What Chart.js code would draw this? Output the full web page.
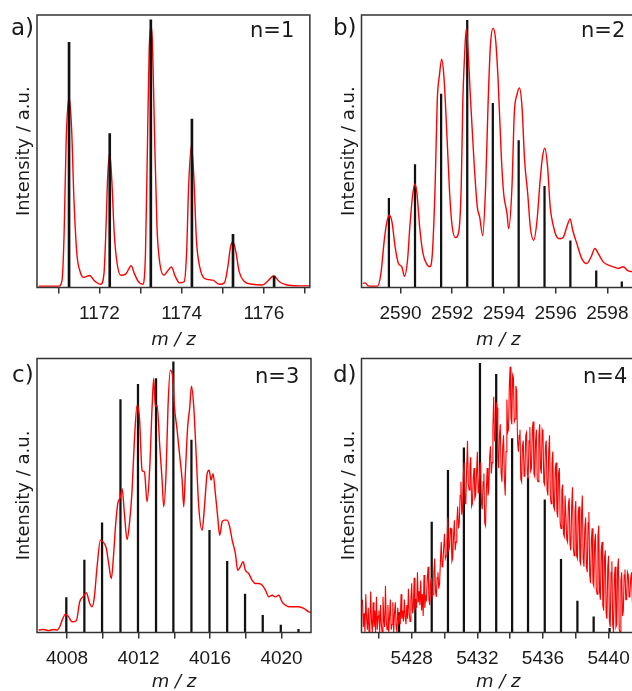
<!DOCTYPE html>
<html><head><meta charset="utf-8">
<script src="https://cdn.jsdelivr.net/npm/chart.js@4.4.1/dist/chart.umd.min.js"></script>
<style>
html,body{margin:0;padding:0;background:#fff;overflow:hidden;width:632px;height:691px;}
#wrap{position:relative;width:632px;height:691px;overflow:hidden;background:#fff;}
canvas{position:absolute;}
.lbl{position:absolute;font-family:'DejaVu Sans',sans-serif;color:#1a1a1a;line-height:1;white-space:nowrap;}
.pl{font-size:23px;}
.nl{font-size:21px;}
</style></head><body>
<div id="wrap">
<canvas id="ca" width="316" height="351" style="left:0;top:0"></canvas>
<canvas id="cb" width="330" height="351" style="left:316px;top:0"></canvas>
<canvas id="cc" width="316" height="351" style="left:0;top:340px"></canvas>
<canvas id="cd" width="330" height="351" style="left:316px;top:340px"></canvas>
<div class="lbl pl" style="left:11px;top:16px">a)</div>
<div class="lbl pl" style="left:333px;top:16px">b)</div>
<div class="lbl pl" style="left:12px;top:363px">c)</div>
<div class="lbl pl" style="left:333px;top:363px">d)</div>
<div class="lbl nl" style="left:250px;top:20px">n=1</div>
<div class="lbl nl" style="left:581px;top:20px">n=2</div>
<div class="lbl nl" style="left:255px;top:366px">n=3</div>
<div class="lbl nl" style="left:583px;top:366px">n=4</div>
</div>
<script>
// ---------- DATA ----------
// Panel a (n=1)
const mzA = [1170.52,1171.02,1171.09,1171.14,1171.19,1171.26,1171.32,1171.38,1171.45,1171.53,1171.62,1171.76,1171.88,1172.03,1172.11,1172.16,1172.20,1172.25,1172.30,1172.36,1172.43,1172.52,1172.64,1172.77,1172.85,1172.95,1173.05,1173.12,1173.17,1173.21,1173.25,1173.29,1173.34,1173.40,1173.47,1173.57,1173.66,1173.75,1173.85,1173.95,1174.06,1174.12,1174.17,1174.24,1174.30,1174.36,1174.44,1174.56,1174.76,1174.92,1175.04,1175.13,1175.19,1175.25,1175.32,1175.40,1175.52,1175.72,1175.96,1176.08,1176.24,1176.38,1176.54,1176.85,1177.12];
const intA = [0.5,0.5,2.7,19.8,54,69.8,59,32,12.5,5.8,3.7,4.4,2.4,1.2,5.1,22.3,40.6,49.4,39.4,19.8,8.8,4.5,4.9,8.0,5.1,2.1,1.2,12.5,54,87,95.5,89.6,56.5,22.3,8.8,4.5,6.1,7.5,3.9,1.7,2.1,12.5,37,52.3,39.4,17.4,7.6,3.3,2.7,1.2,1.7,8.2,14.9,16.8,13.1,5.8,2.3,1.2,0.9,2.1,4.2,2.1,1.0,0.6,0.6];
const stickMzA = [1171.26,1172.25,1173.25,1174.25,1175.25,1176.25];
const stickIntA = [90.0,56.5,98.2,61.8,19.5,4.2];
const tickA = [1171,1172,1173,1174,1175,1176,1177];
const labelA = [1172,1174,1176];

// Panel b (n=2)
const mzB = [2588.54,2588.64,2588.73,2588.92,2589.11,2589.24,2589.37,2589.46,2589.56,2589.67,2589.79,2589.92,2590.05,2590.15,2590.27,2590.36,2590.46,2590.55,2590.63,2590.74,2590.87,2591.04,2591.13,2591.23,2591.34,2591.42,2591.51,2591.59,2591.68,2591.81,2591.90,2592.00,2592.13,2592.26,2592.35,2592.41,2592.48,2592.54,2592.62,2592.71,2592.84,2592.97,2593.06,2593.18,2593.29,2593.39,2593.48,2593.58,2593.67,2593.77,2593.90,2593.99,2594.12,2594.18,2594.31,2594.40,2594.51,2594.60,2594.70,2594.80,2594.92,2595.02,2595.15,2595.28,2595.40,2595.49,2595.58,2595.69,2595.79,2595.92,2596.05,2596.17,2596.30,2596.43,2596.56,2596.66,2596.82,2597.01,2597.20,2597.37,2597.52,2597.65,2597.84,2598.04,2598.23,2598.42,2598.61,2598.81,2599.06];
const intB = [1.5,1.7,0.7,0.5,0.5,5.1,17.3,23.4,26.5,24.0,14.9,8.8,7.6,4.1,10.0,22.2,33.2,38.0,35.0,22.2,12.4,8.2,7.6,12.4,38.0,68.5,78.3,83.8,77.1,52.7,34.4,22.2,18.3,21.0,38.0,68.5,85.6,94.8,85.6,68.5,46.6,29.5,25.9,19.1,36.8,68.5,89.3,95.1,91.7,77.1,47.8,34.4,27.1,21.6,36.8,63.7,71.0,73.2,66.1,46.6,34.4,22.2,17.3,24.6,39.3,47.8,51.1,44.1,29.5,22.2,18.5,17.9,18.5,22.2,25.2,21.0,16.1,10.6,8.8,11.2,14.3,12.4,9.4,8.2,7.6,7.0,7.6,6.1,5.7];
const stickMzB = [2589.55,2590.56,2591.57,2592.58,2593.57,2594.57,2595.57,2596.57,2597.57,2598.56];
const stickIntB = [32.7,45.1,71.0,98.0,67.6,53.9,37.1,17.1,6.1,2.1];
const tickB = [2590,2592,2594,2596,2598];
const labelB = [2590,2592,2594,2596,2598];

// Panel c (n=3)
const mzC = [4006.41,4006.69,4006.97,4007.25,4007.44,4007.59,4007.74,4007.91,4008.09,4008.28,4008.52,4008.71,4008.93,4009.08,4009.27,4009.40,4009.53,4009.68,4009.87,4010.01,4010.20,4010.33,4010.48,4010.61,4010.71,4010.84,4010.99,4011.08,4011.21,4011.36,4011.51,4011.64,4011.77,4011.92,4012.05,4012.20,4012.33,4012.48,4012.63,4012.76,4012.85,4012.94,4013.04,4013.19,4013.32,4013.41,4013.54,4013.65,4013.78,4013.91,4014.01,4014.16,4014.31,4014.44,4014.53,4014.62,4014.75,4014.87,4014.96,4015.09,4015.24,4015.37,4015.56,4015.69,4015.84,4015.95,4016.06,4016.17,4016.30,4016.43,4016.54,4016.68,4016.81,4016.96,4017.10,4017.24,4017.42,4017.55,4017.70,4017.85,4017.98,4018.17,4018.35,4018.54,4018.73,4018.91,4019.10,4019.29,4019.47,4019.66,4019.85,4020.03,4020.22,4020.41,4020.69,4020.97,4021.25,4021.53,4021.71];
const intC = [0.9,1.1,0.7,1.1,0.9,2.1,4.7,6.7,5.7,3.9,4.3,11.2,13.3,14.5,10.6,9.4,13.0,24.0,33.7,33.1,30.7,25.2,19.7,28.8,38.6,47.1,49.5,52.6,43.4,33.9,41.0,51.9,70.2,83.0,78.7,59.2,58.6,47.7,60.5,82.4,92.7,82.4,83.0,67.8,55.6,45.9,58.0,82.4,95.7,93.3,82.4,73.8,64.1,55.6,45.9,58.0,75.1,82.4,89.9,82.4,62.9,45.9,37.3,45.9,58.0,59.2,55.6,58.0,50.7,42.2,35.5,40.4,41.0,41.0,38.6,33.7,28.8,22.7,24.0,25.8,22.7,21.5,19.1,17.9,17.9,17.3,15.5,13.0,13.6,13.0,13.6,11.2,10.0,9.4,9.4,9.4,8.8,7.5,7.2];
const stickMzC = [4007.96,4008.97,4009.96,4010.99,4011.97,4012.98,4013.95,4014.96,4015.97,4016.96,4017.96,4018.95,4019.96,4020.95];
const stickIntC = [12.7,26.4,40.0,85.0,90.6,92.7,98.8,70.2,37.3,26.0,14.0,6.3,2.7,1.2];
const tickC = [4008,4010,4012,4014,4016,4018,4020];
const labelC = [4008,4012,4016,4020];

// Panel d (n=4)
const mzD = [
5425.00,5425.05,5425.10,5425.15,5425.20,5425.25,5425.30,5425.35,5425.40,5425.45,
5425.50,5425.55,5425.60,5425.65,5425.70,5425.75,5425.80,5425.85,5425.90,5425.95,
5426.00,5426.05,5426.10,5426.15,5426.20,5426.25,5426.30,5426.35,5426.40,5426.45,
5426.50,5426.55,5426.60,5426.65,5426.70,5426.75,5426.80,5426.85,5426.90,5426.95,
5427.00,5427.05,5427.10,5427.15,5427.20,5427.25,5427.30,5427.35,5427.40,5427.45,
5427.50,5427.55,5427.60,5427.65,5427.70,5427.75,5427.80,5427.85,5427.90,5427.95,
5428.00,5428.05,5428.10,5428.15,5428.20,5428.25,5428.30,5428.35,5428.40,5428.45,
5428.50,5428.55,5428.60,5428.65,5428.70,5428.75,5428.80,5428.85,5428.90,5428.95,
5429.00,5429.05,5429.10,5429.15,5429.20,5429.25,5429.30,5429.35,5429.40,5429.45,
5429.50,5429.55,5429.60,5429.65,5429.70,5429.75,5429.80,5429.85,5429.90,5429.95,
5430.00,5430.05,5430.10,5430.15,5430.20,5430.25,5430.30,5430.35,5430.40,5430.45,
5430.50,5430.55,5430.60,5430.65,5430.70,5430.75,5430.80,5430.85,5430.90,5430.95,
5431.00,5431.05,5431.10,5431.15,5431.20,5431.25,5431.30,5431.35,5431.40,5431.45,
5431.50,5431.55,5431.60,5431.65,5431.70,5431.75,5431.80,5431.85,5431.90,5431.95,
5432.00,5432.05,5432.10,5432.15,5432.20,5432.25,5432.30,5432.35,5432.40,5432.45,
5432.50,5432.55,5432.60,5432.65,5432.70,5432.75,5432.80,5432.85,5432.90,5432.95,
5433.00,5433.05,5433.10,5433.15,5433.20,5433.25,5433.30,5433.35,5433.40,5433.45,
5433.50,5433.55,5433.60,5433.65,5433.70,5433.75,5433.80,5433.85,5433.90,5433.95,
5434.00,5434.05,5434.10,5434.15,5434.20,5434.25,5434.30,5434.35,5434.40,5434.45,
5434.50,5434.55,5434.60,5434.65,5434.70,5434.75,5434.80,5434.85,5434.90,5434.95,
5435.00,5435.05,5435.10,5435.15,5435.20,5435.25,5435.30,5435.35,5435.40,5435.45,
5435.50,5435.55,5435.60,5435.65,5435.70,5435.75,5435.80,5435.85,5435.90,5435.95,
5436.00,5436.05,5436.10,5436.15,5436.20,5436.25,5436.30,5436.35,5436.40,5436.45,
5436.50,5436.55,5436.60,5436.65,5436.70,5436.75,5436.80,5436.85,5436.90,5436.95,
5437.00,5437.05,5437.10,5437.15,5437.20,5437.25,5437.30,5437.35,5437.40,5437.45,
5437.50,5437.55,5437.60,5437.65,5437.70,5437.75,5437.80,5437.85,5437.90,5437.95,
5438.00,5438.05,5438.10,5438.15,5438.20,5438.25,5438.30,5438.35,5438.40,5438.45,
5438.50,5438.55,5438.60,5438.65,5438.70,5438.75,5438.80,5438.85,5438.90,5438.95,
5439.00,5439.05,5439.10,5439.15,5439.20,5439.25,5439.30,5439.35,5439.40,5439.45,
5439.50,5439.55,5439.60,5439.65,5439.70,5439.75,5439.80,5439.85,5439.90,5439.95,
5440.00,5440.05,5440.10,5440.15,5440.20,5440.25,5440.30,5440.35,5440.40,5440.45,
5440.50,5440.55,5440.60,5440.65,5440.70,5440.75,5440.80,5440.85,5440.90,5440.95,
5441.00,5441.05,5441.10,5441.15,5441.20,5441.25,5441.30,5441.35,5441.40,5441.45,
5441.50,5441.55,5441.60];
const intD = [
12,2,7,0,14,5,1,9,0,3,
15,4,0,11,2,8,0,13,1,6,
8,0,10,3,0,13,5,2,17,4,
1,10,0,6,12,1,3,11,0,7,
11,2,0,9,4,6,3,14,5,8,
4,12,6,3,10,5,16,7,4,12,
18,7,9,20,8,12,9,22,11,15,
10,19,8,14,6,21,9,13,12,20,
24,12,10,18,20,13,14,22,27,15,
13,20,22,16,18,26,33,24,25,31,
36,27,28,33,42,30,31,38,38,26,
27,35,41,30,33,40,46,38,40,50,
55,43,45,58,62,47,48,60,70,54,
52,61,64,46,47,56,60,49,50,58,
66,51,52,60,62,47,45,55,58,40,
39,52,60,50,52,64,68,58,62,75,
86,70,70,84,82,64,60,72,76,58,
55,68,72,56,50,66,85,73,74,90,
97,78,76,94,93,77,78,90,88,70,
66,72,74,56,55,68,70,57,58,72,
73,58,56,70,75,59,60,74,77,58,
57,70,74,56,55,72,76,60,58,74,
73,55,54,68,70,52,50,66,72,50,
47,62,66,46,45,60,62,44,42,58,
60,40,38,52,54,36,35,50,50,34,
33,47,49,32,30,46,53,31,28,44,
48,28,27,44,46,26,25,43,50,27,
24,38,42,24,22,40,44,21,18,34,
38,18,17,33,36,16,14,35,39,15,
12,30,33,10,8,27,30,7,5,24,
28,4,2,22,26,3,0,20,24,2,
3,23,27,1,0,19,22,6,8,21,
23,12,12,22,21,13,14,20,22,11,
10,20,18];
const stickMzD = [5427.23,5428.22,5429.22,5430.21,5431.18,5432.16,5433.15,5434.12,5435.09,5436.11,5437.10,5438.10,5439.09,5440.06];
const stickIntD = [7.3,12.2,40.3,59.2,67.4,98.2,94.2,70.8,56.5,48.4,26.7,11.5,5.7,1.5];
const tickD = [5426,5428,5430,5432,5434,5436,5438,5440];
const labelD = [5428,5432,5436,5440];

const yTitle = 'Intensity / a.u.';
const xTitle = 'm / z';

// ---------- RENDER ----------
Chart.defaults.font.family = "'DejaVu Sans', sans-serif";
Chart.defaults.color = '#1a1a1a';
Chart.defaults.animation = false;

const framePlugin = {
  id: 'frame',
  afterDraw(chart) {
    const {ctx, chartArea: a} = chart;
    ctx.save();
    ctx.strokeStyle = '#333';
    ctx.lineWidth = 1.5;
    ctx.strokeRect(a.left, a.top, a.right - a.left, a.bottom - a.top);
    ctx.restore();
  }
};

function panel(id, o) {
  const line = {
    type: 'line',
    data: o.mz.map((x, i) => ({x, y: o.inten[i]})),
    borderColor: '#ff0000',
    borderWidth: o.lw,
    pointRadius: 0,
    fill: false,
    cubicInterpolationMode: o.smooth ? 'monotone' : 'default',
    tension: 0,
    order: o.redTop ? 0 : 1
  };
  const sticks = {
    type: 'bar',
    data: o.smz.map((x, i) => ({x, y: o.sint[i]})),
    backgroundColor: '#111',
    borderWidth: 0,
    barThickness: o.bw,
    order: o.redTop ? 1 : 0
  };
  return new Chart(document.getElementById(id), {
    type: 'line',
    data: {datasets: [line, sticks]},
    options: {
      responsive: false,
      devicePixelRatio: 1,
      layout: {padding: {top: o.padTop, right: o.padRight, left: 0, bottom: 0}},
      plugins: {legend: {display: false}, tooltip: {enabled: false}},
      scales: {
        x: {
          type: 'linear', min: o.min, max: o.max, offset: false,
          afterBuildTicks: (s) => { s.ticks = o.ticks.map(v => ({value: v})); },
          afterFit: (s) => { s.height = o.xh; },
          grid: {drawOnChartArea: false, drawTicks: true, tickLength: 6, color: '#333', lineWidth: 1.5, offset: false},
          border: {display: false},
          ticks: {
            autoSkip: false, maxRotation: 0, padding: 11,
            font: {family: "'Liberation Sans', Arial, sans-serif", size: 19, lineHeight: 1}, color: '#1a1a1a',
            callback: (v) => o.labels.includes(v) ? String(v) : ''
          },
          title: {display: true, text: xTitle, font: {size: 18, style: 'italic', lineHeight: 1}, color: '#1a1a1a', padding: {top: 0, bottom: o.xtPad}}
        },
        y: {
          min: 0, max: 100,
          afterFit: (s) => { s.width = o.yw; },
          grid: {display: false},
          border: {display: false},
          ticks: {display: false},
          title: {display: true, text: yTitle, font: {size: 18, lineHeight: 1}, color: '#1a1a1a', padding: {top: o.ytPad, bottom: 0}}
        }
      }
    },
    plugins: [framePlugin]
  });
}

panel('ca', {mz: mzA, inten: intA, smz: stickMzA, sint: stickIntA, ticks: tickA, labels: labelA,
  min: 1170.48, max: 1177.12, padTop: 15, padRight: 5, xh: 63.5, yw: 37, xtPad: 2, ytPad: 15, lw: 1.4, bw: 2, smooth: true, redTop: false});
panel('cb', {mz: mzB, inten: intB, smz: stickMzB, sint: stickIntB, ticks: tickB, labels: labelB,
  min: 2588.49, max: 2599.07, padTop: 15, padRight: 11, xh: 63.5, yw: 45.5, xtPad: 2, ytPad: 24.5, lw: 1.4, bw: 1.6, smooth: true, redTop: true});
panel('cc', {mz: mzC, inten: intC, smz: stickMzC, sint: stickIntC, ticks: tickC, labels: labelC,
  min: 4006.32, max: 4021.65, padTop: 18.5, padRight: 5, xh: 58.5, yw: 37, xtPad: 0, ytPad: 15, lw: 1.4, bw: 1.6, smooth: true, redTop: true});
panel('cd', {mz: mzD, inten: intD, smz: stickMzD, sint: stickIntD, ticks: tickD, labels: labelD,
  min: 5424.94, max: 5441.61, padTop: 18.5, padRight: 11, xh: 58.5, yw: 45.5, xtPad: 0, ytPad: 24.5, lw: 1.1, bw: 1.6, smooth: false, redTop: true});
</script>
</body></html>
